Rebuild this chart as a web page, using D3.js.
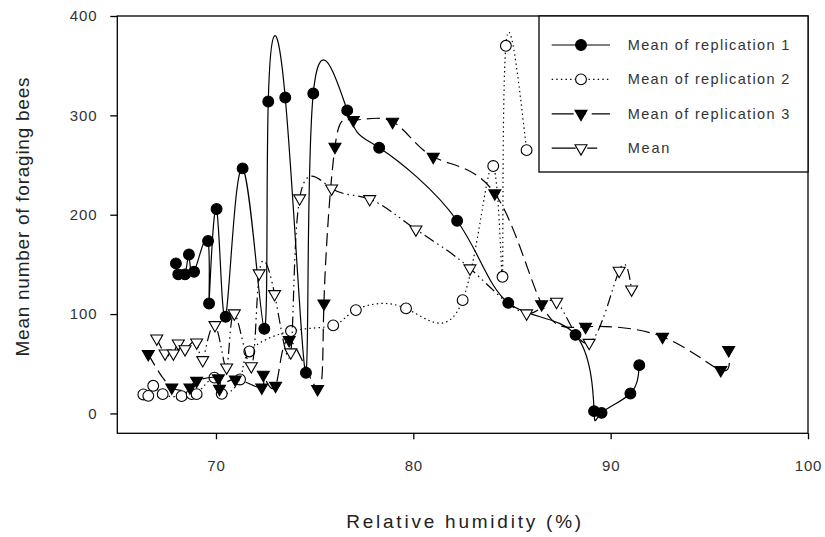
<!DOCTYPE html>
<html>
<head>
<meta charset="utf-8">
<script src="https://cdn.jsdelivr.net/npm/d3@7"></script>
<style>
  html, body { margin: 0; padding: 0; background: #fff; }
  svg { display: block; }
  text { font-family: "Liberation Sans", Arial, sans-serif; }
</style>
</head>
<body>
<svg id="chart" width="825" height="537"></svg>
<script>
// Relative humidity (%) and mean number of foraging bees, per replication
const rep1X = [67.97, 68.09, 68.43, 68.63, 68.89, 69.60, 69.65, 70.03, 70.49, 71.35, 72.45, 72.65, 73.51, 74.56, 74.93, 76.65, 78.27, 82.22, 84.81, 88.22, 89.16, 89.54, 91.00, 91.45];
const rep1Y = [151, 140, 140, 160, 142.6, 173.5, 110.7, 205.7, 97.3, 246.6, 85.2, 314, 318, 40.9, 322, 305, 267.4, 193.9, 111.3, 79.1, 2.3, 0.6, 20.1, 48.6];

const rep2X = [66.32, 66.57, 66.82, 67.30, 68.26, 68.77, 69.02, 69.92, 70.29, 71.22, 71.69, 73.80, 75.94, 77.09, 79.63, 82.50, 84.05, 84.52, 84.69, 85.74];
const rep2Y = [19.1, 17.7, 27.8, 19.4, 17.4, 19.4, 19.4, 36, 19.7, 34.2, 62.4, 82.9, 88.6, 104, 105.7, 114, 249, 137.5, 370, 265];

const rep3X = [66.57, 67.76, 68.68, 69.02, 70.12, 70.18, 70.98, 72.32, 72.40, 73.02, 73.71, 75.15, 75.47, 76.03, 76.96, 78.95, 81.01, 84.13, 86.50, 88.73, 92.63, 95.58, 95.98];
const rep3Y = [59.7, 26.2, 26.2, 32.8, 35.3, 24.8, 34.2, 26.2, 38.9, 27.8, 73.8, 24.5, 110.7, 268.4, 295.3, 293.6, 258.3, 221.5, 110, 87.2, 77.1, 43.6, 63.8];

const meanX = [67.00, 67.42, 67.84, 68.09, 68.43, 69.02, 69.33, 69.95, 70.54, 70.93, 71.79, 72.19, 72.97, 73.79, 74.24, 75.86, 77.79, 80.13, 82.87, 85.74, 87.26, 88.91, 90.43, 91.06];
const meanY = [75.5, 60.4, 60.4, 70.5, 64.7, 71.5, 53.7, 88.9, 46.3, 100.7, 47.6, 141, 120.1, 61.5, 216.5, 226.5, 215.7, 185.2, 146, 100.7, 112.4, 71.1, 143.6, 124.8];

const seriesNames = ["Mean of replication 1", "Mean of replication 2", "Mean of replication 3", "Mean"];
const xTicks = [70, 80, 90, 100];
const yTicks = [0, 100, 200, 300, 400];
const xTitle = "Relative humidity (%)";
const yTitle = "Mean number of foraging bees";

const svg = d3.select("#chart");
const pLeft = 117.3, pRight = 808, pTop = 16, pBottom = 433.3;

const x = d3.scaleLinear().domain([65, 100]).range([pLeft, pRight]);
const y = d3.scaleLinear().domain([-20, 400]).range([pBottom, pTop]);

// Series styling
const styles = [
  { dash: null, symbol: "circle", fill: "#000" },
  { dash: "1.4,3.2", symbol: "circle", fill: "#fff" },
  { dash: "13,6", symbol: "triangle", fill: "#000" },
  { dash: "11,4,1.5,4,1.5,4", symbol: "triangle", fill: "#fff" }
];

const series = [
  rep1X.map((v, i) => [v, rep1Y[i]]),
  rep2X.map((v, i) => [v, rep2Y[i]]),
  rep3X.map((v, i) => [v, rep3Y[i]]),
  meanX.map((v, i) => [v, meanY[i]])
];

// Frame
svg.append("rect")
  .attr("x", pLeft).attr("y", pTop)
  .attr("width", pRight - pLeft).attr("height", pBottom - pTop)
  .attr("fill", "none").attr("stroke", "#000").attr("stroke-width", 1.3);

// Axes
const xAxis = svg.append("g")
  .attr("transform", `translate(0,${pBottom})`)
  .call(d3.axisBottom(x).tickValues(xTicks).tickSize(6).tickPadding(21).tickFormat(d3.format("d")));
const yAxis = svg.append("g")
  .attr("transform", `translate(${pLeft},0)`)
  .call(d3.axisLeft(y).tickValues(yTicks).tickSize(7).tickPadding(13).tickFormat(d3.format("d")));
[xAxis, yAxis].forEach(g => {
  g.select(".domain").remove();
  g.selectAll(".tick line").attr("stroke", "#000").attr("stroke-width", 1.3);
  g.selectAll(".tick text")
    .attr("fill", "#333")
    .style("font-size", "15px")
    .style("letter-spacing", "0.8px")
    .style("font-family", "'Liberation Sans', Arial, sans-serif");
});

// Titles
svg.append("text")
  .attr("x", (pLeft + pRight) / 2 + 1).attr("y", 521.7).attr("dy", "0.35em")
  .attr("text-anchor", "middle")
  .attr("textLength", 235).attr("lengthAdjust", "spacing")
  .attr("fill", "#222").style("font-size", "19px")
  .text(xTitle);
svg.append("text")
  .attr("transform", "translate(22,217) rotate(-90)")
  .attr("dy", "0.35em")
  .attr("text-anchor", "middle")
  .attr("textLength", 279).attr("lengthAdjust", "spacing")
  .attr("fill", "#222").style("font-size", "19px")
  .text(yTitle);

// Marker helper
function marker(g, kind, fill) {
  if (kind === "circle") {
    return g.append("circle").attr("r", 5.4)
      .attr("fill", fill).attr("stroke", "#000").attr("stroke-width", 1.1);
  }
  return g.append("path")
    .attr("d", d3.symbol().type(d3.symbolTriangle).size(62)())
    .attr("transform", "rotate(180)")
    .attr("fill", fill).attr("stroke", "#000").attr("stroke-width", 1.1);
}

const line = d3.line()
  .x(d => x(d[0])).y(d => y(d[1]))
  .curve(d3.curveNatural);

const plot = svg.append("g");
series.forEach((pts, s) => {
  const st = styles[s];
  plot.append("path")
    .datum(pts)
    .attr("d", line)
    .attr("fill", "none")
    .attr("stroke", "#000")
    .attr("stroke-width", 1.2)
    .attr("stroke-dasharray", st.dash);
  pts.forEach(p => {
    const g = plot.append("g").attr("transform", `translate(${x(p[0])},${y(p[1])})`);
    marker(g, st.symbol, st.fill);
  });
});

// Legend
const lg = svg.append("g");
lg.append("rect")
  .attr("x", 539).attr("y", pTop)
  .attr("width", pRight - 539).attr("height", 172 - pTop)
  .attr("fill", "#fff").attr("stroke", "#000").attr("stroke-width", 1.3);
const legendDash = [null, "1.4,3.2", "22,6,6,6", "24,5,1.5,5,10"];
seriesNames.forEach((name, i) => {
  const cy = 45 + i * 34.4;
  const st = styles[i];
  lg.append("line")
    .attr("x1", 551.7).attr("x2", 610).attr("y1", cy).attr("y2", cy)
    .attr("stroke", "#000").attr("stroke-width", 1.2)
    .attr("stroke-dasharray", legendDash[i]);
  const g = lg.append("g").attr("transform", `translate(581,${cy})`);
  marker(g, st.symbol, st.fill);
  lg.append("text")
    .attr("x", 627.7).attr("y", cy).attr("dy", "0.35em")
    .attr("textLength", name === "Mean" ? 41.7 : 161.6).attr("lengthAdjust", "spacing")
    .attr("fill", "#333").style("font-size", "14.5px")
    .text(name);
});
</script>
</body>
</html>
